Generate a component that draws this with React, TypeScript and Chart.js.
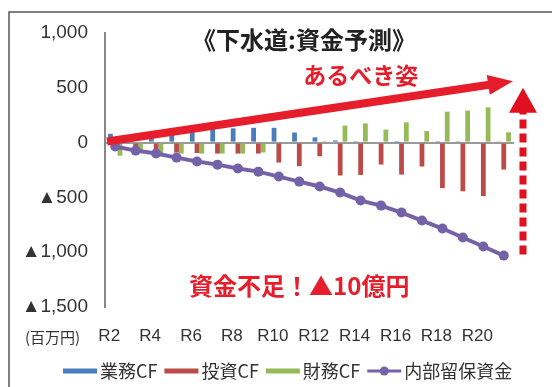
import { useEffect, useRef } from 'react';
import { Chart, registerables } from 'chart.js';

Chart.register(...registerables);

// ---- data ----
const categories = ['R2', 'R3', 'R4', 'R5', 'R6', 'R7', 'R8', 'R9', 'R10', 'R11', 'R12', 'R13', 'R14', 'R15', 'R16', 'R17', 'R18', 'R19', 'R20', 'R21'];
const operatingCF = [80, 70, 60, 80, 100, 125, 130, 135, 135, 92, 48, 20, 4, 0, 2, 0, 4, 6, 9, 7];
const investingCF = [-40, -60, -85, -90, -95, -100, -100, -100, -182, -215, -125, -300, -295, -200, -292, -218, -415, -444, -487, -246];
const financingCF = [-120, -70, -105, -100, -100, -100, -100, -90, -10, 10, 5, 155, 175, 119, 185, 105, 282, 292, 322, 94];
const retainedFunds = [-36, -73, -100, -137, -173, -201, -237, -265, -310, -356, -401, -456, -529, -575, -638, -711, -784, -866, -948, -1031];
const seriesNames = ['業務CF', '投資CF', '財務CF', '内部留保資金'];

const yMin = -1500;
const yMax = 1000;
const yStep = 500;

const titleText = '《下水道:資金予測》';
const idealLabel = 'あるべき姿';
const shortfallLabel = '資金不足！▲10億円';
const unitLabel = '(百万円)';

// annotation anchors in data units (category index, value)
const idealArrow = { x1: -0.4, y1: 10, x2: 19.45, y2: 560 };
const idealText = { x: 12.0, y: 610 };
const shortfallArrow = { x: 19.94, y1: -1020, y2: 500 };
const shortfallText = { x: 9.0, y: -1305 };

const COLORS = ['#4A7EBB', '#BB4B49', '#95BA57', '#7462A8'];
const RED = '#E61E2B';
const CJK = "'Noto Sans CJK JP', 'Noto Sans', sans-serif";
const LATIN = "'Liberation Sans', 'DejaVu Sans', Arial, sans-serif";

function fmt(v: number) {
  const s = Math.abs(v).toLocaleString('en-US');
  return v < 0 ? '▲' + s : s;
}

function drawArrow(ctx: CanvasRenderingContext2D, x1: number, y1: number, x2: number, y2: number,
  lw: number, headLen: number, headHalf: number, color: string, dash?: number[]) {
  const dx = x2 - x1, dy = y2 - y1;
  const len = Math.hypot(dx, dy);
  const ux = dx / len, uy = dy / len;
  const bx = x2 - ux * headLen, by = y2 - uy * headLen;
  ctx.save();
  ctx.strokeStyle = color;
  ctx.fillStyle = color;
  ctx.lineWidth = lw;
  ctx.lineCap = 'butt';
  if (dash) ctx.setLineDash(dash);
  ctx.beginPath();
  ctx.moveTo(x1, y1);
  ctx.lineTo(bx + ux * 1, by + uy * 1);
  ctx.stroke();
  ctx.setLineDash([]);
  ctx.beginPath();
  ctx.moveTo(x2, y2);
  ctx.lineTo(bx - uy * headHalf, by + ux * headHalf);
  ctx.lineTo(bx + uy * headHalf, by - ux * headHalf);
  ctx.closePath();
  ctx.fill();
  ctx.restore();
}

const decorPlugin = {
  id: 'decor',
  afterDatasetsDraw(chart: any) {
    const { ctx, scales } = chart;
    const xs = scales.x, ys = scales.y;
    const px = (v: number) => xs.getPixelForValue(v);
    const py = (v: number) => ys.getPixelForValue(v);

    // ideal arrow
    drawArrow(ctx, px(idealArrow.x1), py(idealArrow.y1), px(idealArrow.x2), py(idealArrow.y2), 8, 25, 10, RED);
    // shortfall dashed arrow
    drawArrow(ctx, px(shortfallArrow.x), py(shortfallArrow.y1), px(shortfallArrow.x), py(shortfallArrow.y2), 7, 25, 14, '#E0101E', [9, 5]);

    ctx.save();
    ctx.textAlign = 'center';
    ctx.textBaseline = 'middle';
    ctx.fillStyle = RED;
    ctx.font = `bold 23px ${CJK}`;
    ctx.fillText(idealLabel, px(idealText.x), py(idealText.y));
    ctx.font = `bold 24px ${CJK}`;
    ctx.fillText(shortfallLabel, px(shortfallText.x), py(shortfallText.y));
    ctx.restore();
  },
  afterDraw(chart: any) {
    const { ctx } = chart;
    ctx.save();
    // frame
    ctx.strokeStyle = '#555';
    ctx.lineWidth = 1.5;
    ctx.beginPath();
    ctx.moveTo(9, 400);
    ctx.lineTo(9, 12);
    ctx.lineTo(560, 12);
    ctx.stroke();

    // title
    ctx.fillStyle = '#222';
    ctx.textAlign = 'center';
    ctx.textBaseline = 'middle';
    ctx.font = `bold 24px ${CJK}`;
    ctx.fillText(titleText, 304, 40);

    // unit label
    ctx.font = `15px ${CJK}`;
    ctx.fillStyle = '#333';
    ctx.textAlign = 'left';
    ctx.fillText(unitLabel, 25, 337);

    // legend
    const ly = 371;
    let x = 63;
    ctx.font = `18px ${CJK}`;
    chart.data.datasets.forEach((ds: any, i: number) => {
      const color = COLORS[i];
      if (i < 3) {
        ctx.fillStyle = color;
        ctx.fillRect(x, ly - 2.5, 34, 5);
      } else {
        ctx.strokeStyle = color;
        ctx.lineWidth = 3;
        ctx.beginPath();
        ctx.moveTo(x, ly);
        ctx.lineTo(x + 34, ly);
        ctx.stroke();
        ctx.fillStyle = color;
        ctx.beginPath();
        ctx.arc(x + 17, ly, 4.5, 0, Math.PI * 2);
        ctx.fill();
      }
      x += 37;
      ctx.fillStyle = '#333';
      ctx.textAlign = 'left';
      ctx.fillText(ds.label, x, ly);
      x += ctx.measureText(ds.label).width + 7;
    });
    ctx.restore();
  },
};

export default function App() {
  const ref = useRef<HTMLCanvasElement>(null);
  useEffect(() => {
    document.body.style.margin = '0';
    const chart = new Chart(ref.current as HTMLCanvasElement, {
      type: 'bar',
      data: {
        labels: categories,
        datasets: [
          { type: 'bar', label: seriesNames[0], data: operatingCF, backgroundColor: COLORS[0], order: 2 },
          { type: 'bar', label: seriesNames[1], data: investingCF, backgroundColor: COLORS[1], order: 2 },
          { type: 'bar', label: seriesNames[2], data: financingCF, backgroundColor: COLORS[2], order: 2 },
          {
            type: 'line', label: seriesNames[3], data: retainedFunds, borderColor: COLORS[3], backgroundColor: COLORS[3],
            borderWidth: 4, pointRadius: 5, pointBackgroundColor: COLORS[3], pointBorderWidth: 0, order: 1,
          },
        ] as any,
      },
      options: {
        animation: false,
        responsive: true,
        maintainAspectRatio: false,
        layout: { padding: { left: 0, right: 38, top: 33, bottom: 0 } },
        datasets: { bar: { categoryPercentage: 0.7, barPercentage: 1.0 } } as any,
        plugins: {
          legend: { display: false },
          title: { display: false },
          tooltip: { enabled: false },
        },
        scales: {
          x: {
            grid: { display: false, drawTicks: false },
            border: { display: false },
            ticks: {
              autoSkip: false,
              maxRotation: 0,
              padding: 19,
              labelOffset: -6,
              color: '#333',
              font: { family: "'Liberation Sans Narrow', 'Liberation Sans', Arial, sans-serif", size: 17 },
              callback: (_v: any, i: number) => (i % 2 === 0 ? categories[i] : ''),
            },
            afterFit: (s: any) => { s.height = 80; },
          },
          y: {
            min: yMin,
            max: yMax,
            grid: {
              drawTicks: false,
              lineWidth: 2,
              color: (c: any) => (c.tick && c.tick.value === 0 ? '#9a9a9a' : 'rgba(0,0,0,0)'),
            },
            border: { display: true, color: '#888', width: 2 },
            ticks: {
              stepSize: yStep,
              padding: 17,
              color: '#333',
              font: { family: LATIN, size: 19 },
              callback: (v: any) => fmt(Number(v)),
            },
            afterFit: (s: any) => { s.width = 105; },
          },
        },
      },
      plugins: [decorPlugin],
    });
    return () => chart.destroy();
  }, []);
  return (
    <div style={{ width: 552, height: 387, position: 'relative' }}>
      <canvas ref={ref} />
    </div>
  );
}
